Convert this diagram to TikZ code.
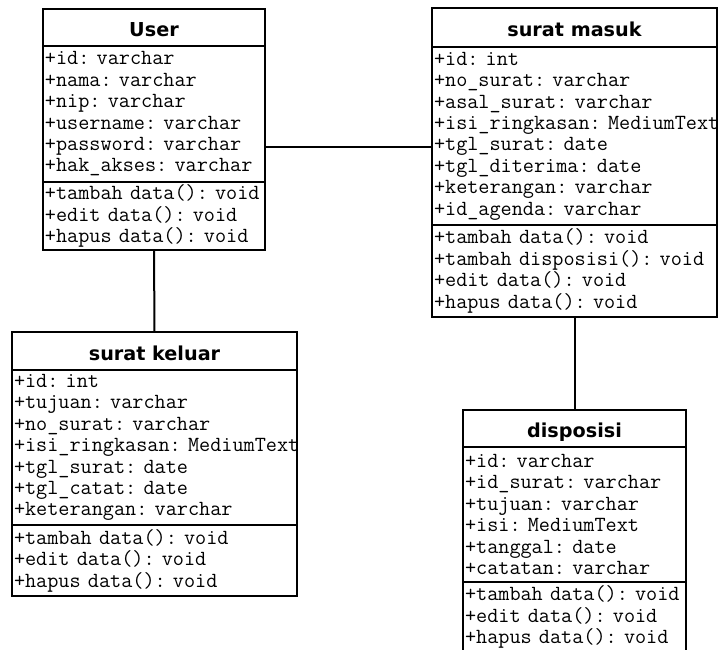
\documentclass[tikz,border=0pt]{standalone}
\usepackage{fontspec}
\newfontfamily\titlefont{DejaVu Sans}
\begin{document}
\begin{tikzpicture}[x=1pt,y=-1pt,
  cls/.style={draw, line width=2pt, rectangle, inner sep=0pt, outer sep=0pt, anchor=north west},
  ttl/.style={cls, text height=18.5pt, text depth=0pt, font=\titlefont\bfseries\fontsize{19.2}{20}\selectfont},
  cmp/.style={cls, align=left, inner xsep=2pt, font=\ttfamily\fontsize{21.6}{21.4}\selectfont},
  link/.style={line width=2pt}]
\clip (0,0) rectangle (718,650);
% User
\node[ttl, minimum width=222, minimum height=37] (uT) at (43,9) {User};
\node[cmp, minimum width=222, minimum height=136, text width=218] (uA) at (43,46)
 {+id:~varchar\\+nama:~varchar\\+nip:~varchar\\+username:~varchar\\+password:~varchar\\+hak\_akses:~varchar};
\node[cmp, minimum width=222, minimum height=68, text width=218] (uM) at (43,182)
 {+tambah~data():~void\\+edit~data():~void\\+hapus~data():~void};
% surat masuk
\node[ttl, minimum width=285, minimum height=39] (mT) at (432,8) {surat masuk};
\node[cmp, minimum width=285, minimum height=178, text width=281] (mA) at (432,47)
 {+id:~int\\+no\_surat:~varchar\\+asal\_surat:~varchar\\+isi\_ringkasan:~MediumText\\+tgl\_surat:~date\\+tgl\_diterima:~date\\+keterangan:~varchar\\+id\_agenda:~varchar};
\node[cmp, minimum width=285, minimum height=92, text width=281] (mM) at (432,225)
 {+tambah~data():~void\\+tambah~disposisi():~void\\+edit~data():~void\\+hapus~data():~void};
% surat keluar
\node[ttl, minimum width=285, minimum height=38] (kT) at (12,332) {surat keluar};
\node[cmp, minimum width=285, minimum height=155, text width=281] (kA) at (12,370)
 {+id:~int\\+tujuan:~varchar\\+no\_surat:~varchar\\+isi\_ringkasan:~MediumText\\+tgl\_surat:~date\\+tgl\_catat:~date\\+keterangan:~varchar};
\node[cmp, minimum width=285, minimum height=71, text width=281] (kM) at (12,525)
 {+tambah~data():~void\\+edit~data():~void\\+hapus~data():~void};
% disposisi
\node[ttl, minimum width=223, minimum height=37] (dT) at (463,410) {disposisi};
\node[cmp, minimum width=223, minimum height=135, text width=219] (dA) at (463,447)
 {+id:~varchar\\+id\_surat:~varchar\\+tujuan:~varchar\\+isi:~MediumText\\+tanggal:~date\\+catatan:~varchar};
\node[cmp, minimum width=223, minimum height=70, text width=219] (dM) at (463,582)
 {+tambah~data():~void\\+edit~data():~void\\+hapus~data():~void};
% connectors
\coordinate (j) at (350,147);
\draw[link] (uM.south) -- (kT.north);
\draw[link] (j -| uA.east) -- (j -| mA.west);
\draw[link] (mM.south) -- (dT.north);
\end{tikzpicture}
\end{document}
